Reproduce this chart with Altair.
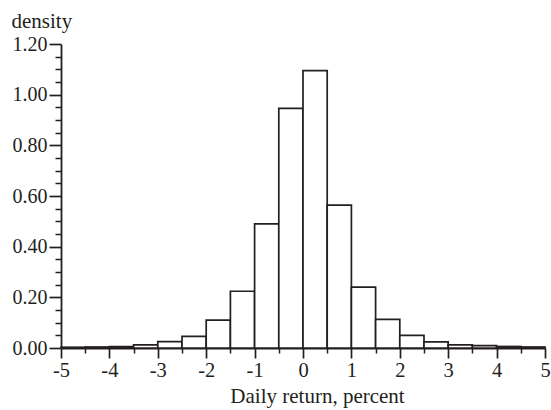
import altair as alt
import pandas as pd

bin_lo = [-5.0, -4.5, -4.0, -3.5, -3.0, -2.5, -2.0, -1.5, -1.0, -0.5,
          0.0, 0.5, 1.0, 1.5, 2.0, 2.5, 3.0, 3.5, 4.0, 4.5]
bin_hi = [-4.5, -4.0, -3.5, -3.0, -2.5, -2.0, -1.5, -1.0, -0.5, 0.0,
          0.5, 1.0, 1.5, 2.0, 2.5, 3.0, 3.5, 4.0, 4.5, 5.0]
density = [0.003, 0.004, 0.006, 0.012, 0.025, 0.046, 0.110, 0.224, 0.490, 0.946,
           1.095, 0.564, 0.240, 0.113, 0.050, 0.024, 0.012, 0.009, 0.006, 0.004]

x_major = [-5, -4, -3, -2, -1, 0, 1, 2, 3, 4, 5]
x_minor = [-4.5, -3.5, -2.5, -1.5, -0.5, 0.5, 1.5, 2.5, 3.5, 4.5]
y_major = [0.0, 0.2, 0.4, 0.6, 0.8, 1.0, 1.2]
y_minor = [0.05, 0.10, 0.15, 0.25, 0.30, 0.35, 0.45, 0.50, 0.55, 0.65, 0.70, 0.75,
           0.85, 0.90, 0.95, 1.05, 1.10, 1.15]

df = pd.DataFrame({"lo": bin_lo, "hi": bin_hi, "density": density})

FONT = "Liberation Serif"
INK = "#231f20"

xscale = alt.Scale(domain=[-5, 5], nice=False, zero=False)
yscale = alt.Scale(domain=[0, 1.2], nice=False)

bars = alt.Chart(df).mark_bar(
    fill="white", stroke=INK, strokeWidth=1.7
).encode(
    x=alt.X("lo:Q", scale=xscale, axis=alt.Axis(
        orient="bottom", values=x_major, labelExpr="'' + datum.value",
        tickSize=10, tickWidth=1.7, tickColor=INK, domainColor=INK, domainWidth=1.8,
        labelFont=FONT, labelFontSize=20.5, labelColor=INK, labelPadding=18,
        labelBaseline="alphabetic",
        grid=False, title="Daily return, percent", titleFont=FONT, titleFontSize=21,
        titleFontWeight="normal", titleColor=INK, titleAlign="center",
        titleBaseline="alphabetic", titleX=256, titleY=54, labelFlush=False)),
    x2="hi:Q",
    y=alt.Y("density:Q", scale=yscale, axis=alt.Axis(
        orient="left", values=y_major, format=".2f",
        tickSize=12, tickWidth=1.7, tickColor=INK, domainColor=INK, domainWidth=1.8,
        labelFont=FONT, labelFontSize=20, labelColor=INK, labelPadding=2,
        grid=False, title="density", titleFont=FONT, titleFontSize=21,
        titleFontWeight="normal", titleColor=INK, titleAngle=0,
        titleAlign="left", titleBaseline="alphabetic", titleX=-50, titleY=-16.7,
        labelFlush=False)),
    y2=alt.datum(0),
)

minor = alt.Chart(df).mark_point(opacity=0).encode(
    x=alt.X("lo:Q", scale=xscale, axis=alt.Axis(
        orient="bottom", values=x_minor, labels=False, domain=False, grid=False,
        tickSize=5, tickWidth=1.5, tickColor=INK, title=None)),
    y=alt.Y("density:Q", scale=yscale, axis=alt.Axis(
        orient="left", values=y_minor, labels=False, domain=False, grid=False,
        tickSize=6, tickWidth=1.5, tickColor=INK, title=None)),
)

chart = alt.layer(bars, minor).resolve_axis(
    x="independent", y="independent"
).properties(
    width=484, height=304,
    autosize=alt.AutoSizeParams(type="none"),
    padding={"left": 61, "top": 44, "right": 6, "bottom": 62},
    background="white",
).configure_view(stroke=None)

chart.save("out.html", embed_options={"renderer": "svg", "actions": False})
